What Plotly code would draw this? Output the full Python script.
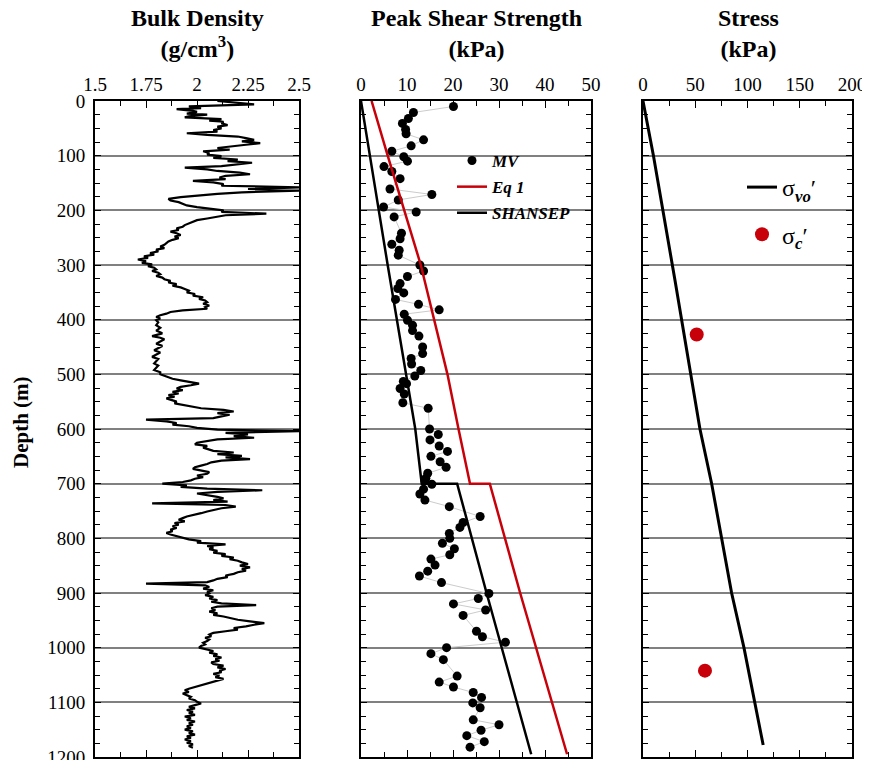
import plotly.graph_objects as go

# ---------------- Data ----------------
bd_depth = [
    0, 3, 6, 8, 10, 13, 15, 18, 20, 23,
    25, 28, 30, 33, 36, 38, 41, 44, 47, 50,
    53, 56, 59, 62, 65, 68, 71, 74, 77, 80,
    83, 86, 89, 92, 95, 98, 101, 104, 107, 110,
    113, 116, 119, 122, 125, 128, 131, 134, 137, 140,
    143, 146, 149, 152, 155, 158, 161, 164, 167, 170,
    173, 176, 179, 182, 185, 188, 191, 194, 197, 200,
    203, 206, 209, 212, 215, 218, 221, 224, 227, 230,
    233, 236, 239, 242, 245, 248, 251, 254, 257, 260,
    263, 266, 269, 272, 275, 278, 281, 284, 287, 290,
    293, 296, 299, 302, 305, 308, 311, 314, 317, 320,
    323, 326, 329, 332, 335, 338, 341, 344, 347, 350,
    353, 356, 359, 362, 365, 368, 371, 374, 377, 380,
    383, 386, 389, 392, 395, 398, 401, 405, 410, 415,
    420, 425, 430, 433, 436, 440, 444, 448, 452, 456,
    460, 464, 468, 472, 476, 480, 484, 488, 492, 496,
    500, 504, 508, 511, 514, 517, 520, 523, 526, 529,
    532, 535, 538, 541, 544, 547, 550, 553, 556, 559,
    562, 565, 568, 571, 574, 577, 580, 583, 586, 589,
    592, 595, 598, 601, 604, 607, 610, 613, 616, 619,
    622, 625, 628, 631, 634, 637, 640, 643, 646, 649,
    652, 655, 658, 661, 664, 667, 670, 673, 676, 679,
    682, 685, 688, 691, 694, 697, 700, 703, 706, 709,
    712, 715, 718, 721, 724, 727, 730, 733, 736, 739,
    742, 745, 748, 751, 754, 757, 760, 763, 766, 769,
    772, 775, 778, 781, 784, 787, 790, 793, 796, 799,
    802, 805, 808, 811, 814, 817, 820, 823, 826, 829,
    832, 835, 838, 841, 844, 847, 850, 853, 856, 859,
    862, 865, 868, 871, 874, 877, 880, 883, 886, 889,
    892, 895, 898, 901, 904, 907, 910, 913, 916, 919,
    922, 925, 928, 931, 934, 937, 940, 943, 946, 949,
    952, 955, 958, 961, 964, 967, 970, 973, 976, 979,
    982, 985, 988, 991, 994, 997, 1000, 1003, 1006, 1009,
    1012, 1015, 1018, 1021, 1024, 1027, 1030, 1033, 1036, 1039,
    1042, 1045, 1048, 1051, 1054, 1057, 1060, 1063, 1066, 1069,
    1072, 1075, 1078, 1081, 1084, 1087, 1090, 1093, 1096, 1099,
    1102, 1105, 1108, 1111, 1114, 1117, 1120, 1123, 1126, 1129,
    1132, 1135, 1138, 1141, 1144, 1147, 1150, 1153, 1156, 1159,
    1162, 1165, 1168, 1171, 1174, 1177, 1180, 1183,
]
bulk_density = [
    2.10, 2.20, 2.28, 2.12, 1.96, 2.02, 1.90, 1.98, 2.00, 1.95,
    2.05, 1.96, 1.94, 2.12, 2.06, 2.13, 2.12, 2.15, 2.10, 2.12,
    2.08, 2.10, 1.95, 2.05, 2.20, 2.24, 2.28, 2.22, 2.31, 2.24,
    2.15, 2.10, 2.16, 2.03, 2.06, 2.05, 2.12, 2.08, 2.20, 2.15,
    2.27, 2.18, 2.12, 1.94, 2.05, 2.10, 2.21, 2.26, 2.14, 2.11,
    2.14, 1.98, 2.08, 2.13, 2.12, 2.50, 2.25, 2.50, 2.22, 2.10,
    1.99, 1.92, 1.86, 1.87, 1.91, 1.93, 1.95, 2.00, 2.08, 2.13,
    2.12, 2.34, 2.14, 2.10, 2.05, 2.00, 1.98, 1.96, 1.94, 1.93,
    1.90, 1.91, 1.87, 1.90, 1.92, 1.89, 1.91, 1.88, 1.86, 1.85,
    1.84, 1.82, 1.84, 1.80, 1.81, 1.77, 1.79, 1.74, 1.76, 1.71,
    1.75, 1.73, 1.78, 1.76, 1.79, 1.80, 1.78, 1.81, 1.82, 1.80,
    1.83, 1.84, 1.87, 1.86, 1.90, 1.88, 1.92, 1.94, 1.96, 1.95,
    1.99, 1.98, 2.03, 2.01, 2.04, 2.05, 2.03, 2.06, 2.04, 2.05,
    1.93, 1.87, 1.85, 1.82, 1.80, 1.82, 1.80, 1.81, 1.80, 1.82,
    1.80, 1.83, 1.78, 1.82, 1.84, 1.82, 1.80, 1.83, 1.81, 1.79,
    1.82, 1.80, 1.78, 1.81, 1.80, 1.79, 1.81, 1.80, 1.79, 1.82,
    1.82, 1.85, 1.88, 1.92, 1.96, 2.01, 1.97, 1.92, 1.90, 1.93,
    1.88, 1.91, 1.86, 1.89, 1.85, 1.88, 1.90, 1.89, 1.93, 1.97,
    2.02, 2.13, 2.18, 2.10, 2.16, 2.12, 2.08, 1.75, 1.85, 1.90,
    1.88, 1.96, 2.00, 2.10, 2.50, 2.14, 2.25, 2.18, 2.28, 2.10,
    2.04, 2.00, 1.99, 2.05, 2.03, 2.06, 2.08, 2.18, 2.10, 2.22,
    2.14, 2.26, 2.12, 2.07, 2.05, 2.02, 1.99, 1.98, 2.03, 2.06,
    2.05, 2.00, 2.03, 1.99, 1.97, 1.93, 1.83, 1.95, 1.92, 2.05,
    2.32, 2.10, 2.00, 2.06, 2.10, 2.13, 2.08, 2.15, 1.78, 2.14,
    2.19, 2.12, 2.08, 2.05, 2.02, 1.98, 1.95, 1.93, 1.91, 1.94,
    1.89, 1.91, 1.88, 1.90, 1.87, 1.88, 1.85, 1.87, 1.90, 1.93,
    1.96, 2.02, 2.00, 2.14, 2.05, 2.08, 2.06, 2.10, 2.08, 2.14,
    2.12, 2.18, 2.16, 2.20, 2.22, 2.25, 2.21, 2.26, 2.22, 2.24,
    2.20, 2.18, 2.14, 2.15, 2.10, 2.08, 2.05, 1.75, 2.04, 2.06,
    2.03, 2.08, 2.05, 2.06, 2.04, 2.08, 2.06, 2.10, 2.07, 2.12,
    2.29, 2.10, 2.07, 2.09, 2.06, 2.10, 2.08, 2.13, 2.16, 2.20,
    2.26, 2.33, 2.28, 2.24, 2.18, 2.20, 2.14, 2.08, 2.06, 2.07,
    2.04, 2.06, 2.05, 2.03, 2.04, 2.02, 2.01, 2.04, 2.08, 2.06,
    2.10, 2.08, 2.12, 2.09, 2.11, 2.07, 2.08, 2.13, 2.10, 2.14,
    2.11, 2.12, 2.08, 2.11, 2.09, 2.13, 2.10, 2.08, 2.04, 2.02,
    1.98, 1.96, 1.94, 1.96, 1.93, 1.95, 1.97, 1.96, 1.99, 2.00,
    2.02, 1.99, 1.96, 1.99, 1.95, 1.98, 1.96, 1.99, 1.94, 1.97,
    1.95, 1.99, 1.96, 1.98, 1.95, 1.97, 1.94, 1.98, 1.96, 1.99,
    1.95, 1.97, 1.94, 1.97, 1.95, 1.98, 1.96, 1.98,
]

mv_depth = [
    10, 21, 32, 41, 52, 60, 71, 82, 92, 102,
    110, 120, 129, 142, 161, 171, 181, 194, 203, 212,
    242, 252, 262, 273, 282, 300, 311, 321, 334, 343,
    351, 363, 372, 382, 390, 401, 410, 420, 430, 450,
    462, 471, 481, 493, 503, 513, 517, 526, 536, 552,
    562, 600, 610, 620, 631, 641, 650, 660, 670, 681,
    690, 695, 701, 710, 719, 730, 742, 760, 771, 780,
    791, 800, 809, 819, 830, 838, 849, 860, 869, 881,
    901, 910, 920, 931, 941, 970, 980, 990, 1000, 1011,
    1022, 1052, 1063, 1072, 1082, 1091, 1101, 1110, 1132, 1141,
    1151, 1161, 1172, 1182,
]
mv_strength = [
    20.1, 11.4, 10.3, 9.0, 9.7, 9.8, 13.6, 10.9, 6.7, 9.3,
    10.1, 5.0, 6.7, 8.5, 6.3, 15.4, 8.1, 4.9, 12.0, 7.2,
    8.8, 8.5, 6.7, 8.3, 8.1, 12.8, 13.6, 10.1, 8.5, 8.0,
    9.3, 7.5, 12.5, 17.0, 9.4, 10.1, 11.2, 11.2, 12.6, 13.4,
    13.4, 10.9, 11.0, 13.0, 11.7, 9.2, 9.9, 8.5, 9.4, 9.1,
    14.6, 14.9, 16.8, 15.0, 17.0, 18.8, 15.2, 17.2, 18.5, 14.5,
    14.1, 13.9, 15.4, 13.6, 12.8, 13.9, 19.2, 25.9, 22.2, 21.5,
    19.2, 19.3, 17.7, 20.3, 19.3, 15.2, 16.1, 14.5, 12.7, 17.5,
    27.8, 25.5, 20.1, 27.1, 22.2, 25.1, 26.4, 31.4, 18.6, 15.2,
    17.9, 20.9, 17.0, 20.1, 24.4, 26.2, 24.3, 25.9, 24.4, 30.0,
    26.1, 23.0, 26.8, 23.7,
]

eq1_depth = [0, 100, 300, 500, 600, 700, 700, 900, 1195]
eq1_strength = [2.3, 5.8, 13.0, 18.8, 21.2, 23.7, 28.0, 34.6, 44.8]
shansep_depth = [0, 300, 600, 700, 700, 900, 1195]
shansep_strength = [0.0, 5.8, 11.8, 13.2, 20.9, 27.3, 37.0]

stress_depth = [0, 100, 328, 500, 600, 700, 800, 900, 1000, 1100, 1178]
sigma_vo = [0, 10, 30.6, 45.6, 54.5, 65.7, 75.3, 84.8, 96.6, 107, 115]
sigc_depth = [427, 1042]
sigma_c = [51.4, 59.3]

# ---------------- Figure ----------------
# The page body has an 8 px margin, so every layout pixel value below is
# given in figure pixels (page pixel - 8).
W, H = 862, 752
SERIF = "Liberation Serif"
RED = "#c8000a"

def px_x(p):
    return p / W

def px_y(p):
    return 1 - p / H

fig = go.Figure()

fig.add_trace(go.Scatter(x=bulk_density, y=bd_depth, mode="lines",
                         line=dict(color="black", width=2.2),
                         xaxis="x", yaxis="y", showlegend=False))

fig.add_trace(go.Scatter(x=mv_strength, y=mv_depth, mode="lines",
                         line=dict(color="#cccccc", width=1),
                         xaxis="x2", yaxis="y2", showlegend=False))
fig.add_trace(go.Scatter(x=mv_strength, y=mv_depth, mode="markers", name="MV",
                         marker=dict(color="black", size=9),
                         xaxis="x2", yaxis="y2", legend="legend", legendgroup="a"))
fig.add_trace(go.Scatter(x=eq1_strength, y=eq1_depth, mode="lines", name="Eq 1",
                         line=dict(color=RED, width=2.5),
                         xaxis="x2", yaxis="y2", legend="legend", legendgroup="b"))
fig.add_trace(go.Scatter(x=shansep_strength, y=shansep_depth, mode="lines", name="SHANSEP",
                         line=dict(color="black", width=2.5),
                         xaxis="x2", yaxis="y2", legend="legend", legendgroup="c"))

fig.add_trace(go.Scatter(x=sigma_vo, y=stress_depth, mode="lines",
                         name="σ<sub><b><i>vo</i></b></sub>′",
                         line=dict(color="black", width=3),
                         xaxis="x3", yaxis="y3", legend="legend2", legendgroup="d"))
fig.add_trace(go.Scatter(x=sigma_c, y=sigc_depth, mode="markers",
                         name="σ<sub><b><i>c</i></b></sub>′",
                         marker=dict(color=RED, size=14),
                         xaxis="x3", yaxis="y3", legend="legend2", legendgroup="e"))

top_y = px_y(93)
bot_y = px_y(749)

def xax(domain, rng, dtick, minor):
    return dict(domain=domain, range=rng, dtick=dtick, tick0=rng[0], side="top",
                automargin=False, ticklabeloverflow="allow",
                ticks="inside", ticklen=7, tickwidth=1.2, tickcolor="black",
                minor=dict(dtick=minor, ticks="inside", ticklen=5, tickwidth=1.2,
                           tickcolor="black", showgrid=False),
                showline=True, linewidth=2, linecolor="black", mirror="ticks",
                showgrid=False, zeroline=False,
                tickfont=dict(family=SERIF, size=19, color="black"))

def yax(anchor, labels):
    return dict(domain=[bot_y, top_y], range=[1200, 0], dtick=100, tick0=0,
                anchor=anchor, automargin=False, ticklabeloverflow="allow",
                ticks="inside", ticklen=6, tickwidth=1.2, tickcolor="black",
                minor=dict(dtick=25, ticks="inside", ticklen=5, tickwidth=1.2,
                           tickcolor="black", showgrid=False),
                showline=True, linewidth=2, linecolor="black", mirror="ticks",
                showgrid=True, gridcolor="#808080", gridwidth=1.5, zeroline=False,
                showticklabels=labels, ticklabelstandoff=4,
                tickfont=dict(family=SERIF, size=19, color="black"))

fig.update_layout(
    width=W, height=H,
    margin=dict(l=0, r=0, t=0, b=0, autoexpand=False),
    paper_bgcolor="white", plot_bgcolor="white",
    xaxis=xax([px_x(87), px_x(291)], [1.5, 2.5], 0.25, 0.125),
    xaxis2=xax([px_x(353), px_x(583)], [0, 50], 10, 5),
    xaxis3=xax([px_x(635), px_x(844)], [0, 200], 50, 25),
    yaxis=yax("x", True),
    yaxis2=yax("x2", False),
    yaxis3=yax("x3", False),
    legend=dict(x=px_x(444), y=px_y(135), xanchor="left", yanchor="top",
                bgcolor="rgba(0,0,0,0)", tracegroupgap=1,
                font=dict(family=SERIF, size=17, color="black", style="italic", weight="bold")),
    legend2=dict(x=px_x(734), y=px_y(157), xanchor="left", yanchor="top",
                 bgcolor="rgba(0,0,0,0)", tracegroupgap=13,
                 font=dict(family=SERIF, size=24, color="black")),
    showlegend=True,
)

title_font = dict(family=SERIF, size=24, color="black", weight="bold")
titles = [("Bulk Density<br>(g/cm<sup>3</sup>)", 189),
          ("Peak Shear Strength<br>(kPa)", 468),
          ("Stress<br>(kPa)", 740)]
for text, xc in titles:
    fig.add_annotation(text=text, x=px_x(xc), y=px_y(26), xref="paper", yref="paper",
                       xanchor="center", yanchor="middle", showarrow=False,
                       font=title_font, align="center")

fig.add_annotation(text="Depth (m)", x=px_x(13), y=px_y(414), xref="paper", yref="paper",
                   textangle=-90, showarrow=False, xanchor="center", yanchor="middle",
                   font=dict(family=SERIF, size=21, color="black", weight="bold"))

fig.write_html("out.html")
